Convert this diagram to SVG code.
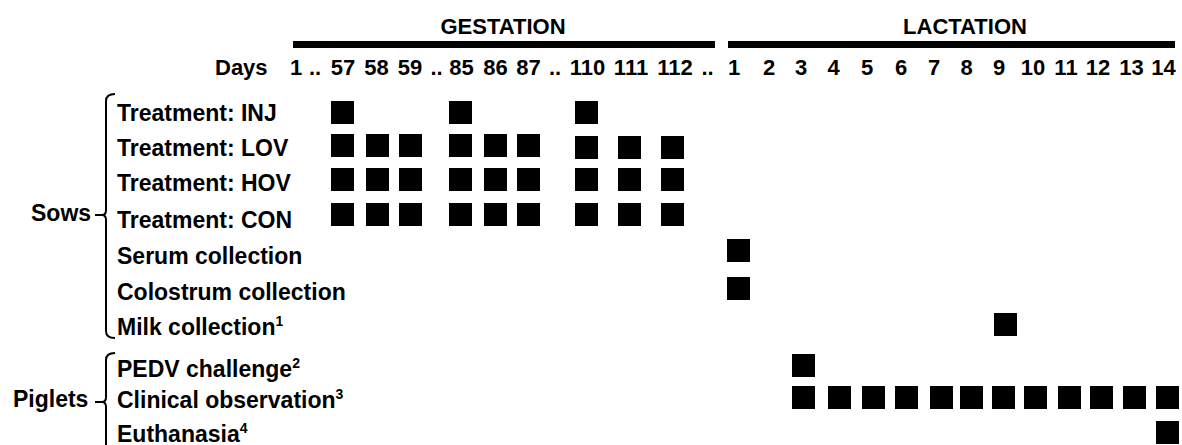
<svg xmlns="http://www.w3.org/2000/svg" width="1182" height="445" viewBox="0 0 1182 445">
<style>
text{font-family:"Liberation Sans",Arial,sans-serif;font-weight:bold;fill:#000}
.hd{font-size:22px}
.lb{font-size:23px}
.d{font-size:22px;text-anchor:middle}
.sup{font-size:14px}
.sq{fill:#000}
.br{fill:none;stroke:#000;stroke-width:2}
</style>
<g id="header">
<rect x="293" y="41" width="422" height="7" fill="#000"/>
<rect x="728" y="41" width="447" height="7" fill="#000"/>
<text class="hd" x="503" y="34" text-anchor="middle">GESTATION</text>
<text class="hd" x="965" y="34" text-anchor="middle">LACTATION</text>
<text class="hd" x="215" y="75">Days</text>
<g id="days">
<text class="d" x="296" y="75">1</text>
<text class="d" x="315" y="75">..</text>
<text class="d" x="343" y="75">57</text>
<text class="d" x="376.5" y="75">58</text>
<text class="d" x="410" y="75">59</text>
<text class="d" x="436.5" y="75">..</text>
<text class="d" x="461.5" y="75">85</text>
<text class="d" x="495.5" y="75">86</text>
<text class="d" x="528.5" y="75">87</text>
<text class="d" x="555" y="75">..</text>
<text class="d" x="587.5" y="75">110</text>
<text class="d" x="631" y="75">111</text>
<text class="d" x="675" y="75">112</text>
<text class="d" x="707.5" y="75">..</text>
<text class="d" x="734" y="75">1</text>
<text class="d" x="769" y="75">2</text>
<text class="d" x="801" y="75">3</text>
<text class="d" x="833.5" y="75">4</text>
<text class="d" x="867" y="75">5</text>
<text class="d" x="901" y="75">6</text>
<text class="d" x="934" y="75">7</text>
<text class="d" x="966.5" y="75">8</text>
<text class="d" x="999" y="75">9</text>
<text class="d" x="1033" y="75">10</text>
<text class="d" x="1066" y="75">11</text>
<text class="d" x="1098" y="75">12</text>
<text class="d" x="1131.5" y="75">13</text>
<text class="d" x="1163.5" y="75">14</text>
</g>
</g>
<g id="sows">
<text class="lb" x="31" y="221">Sows</text>
<path class="br" d="M115,94 Q106,94 106,101 L106,210 Q106,215 102,215 Q106,215 106,220 L106,331 Q106,338 115,338"/>
<line class="br" x1="95" y1="215" x2="103" y2="215"/>
</g>
<g id="piglets">
<text class="lb" x="13" y="407">Piglets</text>
<path class="br" d="M115,353 Q106,353 106,360 L106,397 Q106,402 102,402 Q106,402 106,407 L106,447"/>
<line class="br" x1="95" y1="402" x2="103" y2="402"/>
</g>
<g id="row-inj">
<text class="lb" x="117" y="121">Treatment: INJ</text>
<rect class="sq" x="331" y="101" width="23" height="23"/>
<rect class="sq" x="449" y="101" width="23" height="23"/>
<rect class="sq" x="575" y="101" width="23" height="23"/>
</g>
<g id="row-lov">
<text class="lb" x="117" y="156">Treatment: LOV</text>
<rect class="sq" x="331" y="134" width="23" height="23"/>
<rect class="sq" x="366" y="134" width="23" height="23"/>
<rect class="sq" x="399" y="134" width="23" height="23"/>
<rect class="sq" x="449" y="134" width="23" height="23"/>
<rect class="sq" x="484" y="134" width="23" height="23"/>
<rect class="sq" x="517" y="134" width="23" height="23"/>
<rect class="sq" x="575" y="136" width="23" height="23"/>
<rect class="sq" x="618" y="136" width="23" height="23"/>
<rect class="sq" x="661" y="136" width="23" height="23"/>
</g>
<g id="row-hov">
<text class="lb" x="117" y="191">Treatment: HOV</text>
<rect class="sq" x="331" y="168" width="23" height="23"/>
<rect class="sq" x="366" y="168" width="23" height="23"/>
<rect class="sq" x="399" y="168" width="23" height="23"/>
<rect class="sq" x="449" y="168" width="23" height="23"/>
<rect class="sq" x="484" y="168" width="23" height="23"/>
<rect class="sq" x="517" y="168" width="23" height="23"/>
<rect class="sq" x="575" y="168" width="23" height="23"/>
<rect class="sq" x="618" y="168" width="23" height="23"/>
<rect class="sq" x="661" y="168" width="23" height="23"/>
</g>
<g id="row-con">
<text class="lb" x="117" y="228">Treatment: CON</text>
<rect class="sq" x="331" y="203" width="23" height="23"/>
<rect class="sq" x="366" y="203" width="23" height="23"/>
<rect class="sq" x="399" y="203" width="23" height="23"/>
<rect class="sq" x="449" y="203" width="23" height="23"/>
<rect class="sq" x="484" y="203" width="23" height="23"/>
<rect class="sq" x="517" y="203" width="23" height="23"/>
<rect class="sq" x="575" y="203" width="23" height="23"/>
<rect class="sq" x="618" y="203" width="23" height="23"/>
<rect class="sq" x="661" y="203" width="23" height="23"/>
</g>
<g id="row-serum">
<text class="lb" x="117" y="264">Serum collection</text>
<rect class="sq" x="727" y="239" width="23" height="23"/>
</g>
<g id="row-colostrum">
<text class="lb" x="117" y="300">Colostrum collection</text>
<rect class="sq" x="727" y="277" width="23" height="23"/>
</g>
<g id="row-milk">
<text class="lb" x="117" y="335">Milk collection<tspan class="sup" dy="-9">1</tspan></text>
<rect class="sq" x="994" y="313" width="23" height="23"/>
</g>
<g id="row-pedv">
<text class="lb" x="117" y="377">PEDV challenge<tspan class="sup" dy="-9">2</tspan></text>
<rect class="sq" x="792" y="354" width="23" height="23"/>
</g>
<g id="row-clinical">
<text class="lb" x="117" y="408">Clinical observation<tspan class="sup" dy="-9">3</tspan></text>
<rect class="sq" x="792" y="386" width="23" height="23"/>
<rect class="sq" x="828" y="386" width="23" height="23"/>
<rect class="sq" x="862" y="386" width="23" height="23"/>
<rect class="sq" x="895" y="386" width="23" height="23"/>
<rect class="sq" x="930" y="386" width="23" height="23"/>
<rect class="sq" x="960" y="386" width="23" height="23"/>
<rect class="sq" x="992" y="386" width="23" height="23"/>
<rect class="sq" x="1024" y="386" width="23" height="23"/>
<rect class="sq" x="1058" y="386" width="23" height="23"/>
<rect class="sq" x="1090" y="386" width="23" height="23"/>
<rect class="sq" x="1123" y="386" width="23" height="23"/>
<rect class="sq" x="1156" y="386" width="23" height="23"/>
</g>
<g id="row-euthanasia">
<text class="lb" x="117" y="442">Euthanasia<tspan class="sup" dy="-9">4</tspan></text>
<rect class="sq" x="1156" y="421" width="23" height="23"/>
</g>
</svg>
